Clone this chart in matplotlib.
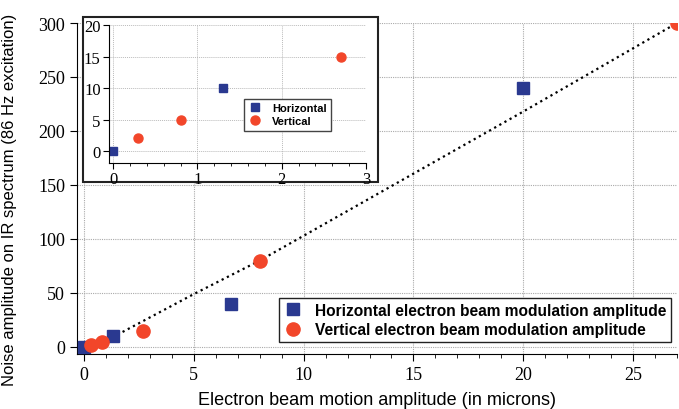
import matplotlib.pyplot as plt
from matplotlib.patches import Rectangle

# data
horiz_x = [0, 1.3, 6.7, 20]
horiz_y = [0, 10, 40, 240]
vert_x = [0.3, 0.8, 2.7, 8, 27]
vert_y = [2, 5, 15, 80, 300]
fit_x = [0.3, 1.3, 5.0, 8, 20, 27]
fit_y = [0, 9, 49, 80, 218, 300]

inset_hx = [0, 1.3]
inset_hy = [0, 10]
inset_vx = [0.3, 0.8, 2.7]
inset_vy = [2, 5, 15]

blue = '#2a3990'
red = '#f2462a'
serif = 'Liberation Serif'
sans = 'Liberation Sans'

fig = plt.figure(figsize=(6.79, 4.10), dpi=100)
ax = fig.add_axes([77/679, 1-355/410, 600/679, 331/410])
ax.plot(fit_x, fit_y, ':', color='black', lw=1.6, zorder=2)
ax.plot(horiz_x, horiz_y, 's', color=blue, ms=8.5, ls='none', zorder=3,
        label='Horizontal electron beam modulation amplitude')
ax.plot(vert_x, vert_y, 'o', color=red, ms=9.5, ls='none', zorder=3,
        label='Vertical electron beam modulation amplitude')
ax.set_xlim(-0.32, 27.0)
ax.set_ylim(-6.5, 300)
ax.set_xticks([0, 5, 10, 15, 20, 25])
ax.set_xticks(range(0, 28), minor=True)
ax.set_yticks([0, 50, 100, 150, 200, 250, 300])
ax.grid(True, color='#aaaaaa', ls=(0, (1, 1)), lw=0.8)
for s in ['top', 'right']:
    ax.spines[s].set_visible(False)
ax.tick_params(direction='out', length=5, labelsize=13)
ax.tick_params(which='minor', length=3)
for t in ax.get_xticklabels() + ax.get_yticklabels():
    t.set_family(serif)
ax.set_xlabel('Electron beam motion amplitude (in microns)', family=sans,
              fontsize=13, labelpad=6)
ax.set_ylabel('Noise amplitude on IR spectrum (86 Hz excitation)', family=sans,
              fontsize=12)
ax.yaxis.set_label_coords(-0.1, 0.47)
ax.legend(loc='center', bbox_to_anchor=(0.663, 0.103), frameon=True,
          fancybox=False, edgecolor='#222222', framealpha=1,
          prop={'family': sans, 'weight': 'bold', 'size': 11.2},
          handletextpad=0.8, borderpad=0.3, labelspacing=0.3, handlelength=1.2)

# inset box
fig.patches.append(Rectangle((83/679, 1-183/410), 295/679, 165/410,
                             transform=fig.transFigure, facecolor='white',
                             edgecolor='#222222', lw=1.5, zorder=5))
ins = fig.add_axes([109/679, 1-164/410, 257/679, 138/410], zorder=6)
ins.plot(inset_hx, inset_hy, 's', color=blue, ms=6, ls='none', label='Horizontal')
ins.plot(inset_vx, inset_vy, 'o', color=red, ms=6.5, ls='none', label='Vertical')
ins.set_xlim(-0.05, 3)
ins.set_ylim(-1.9, 20)
ins.set_xticks([0, 1, 2, 3])
ins.set_xticks([0.2*i for i in range(16)], minor=True)
ins.set_yticks([0, 5, 10, 15, 20])
ins.grid(True, color='#bbbbbb', ls=(0, (1, 1)), lw=0.7)
for s in ['top', 'right']:
    ins.spines[s].set_visible(False)
ins.tick_params(direction='out', length=4, labelsize=12, pad=2)
ins.tick_params(which='minor', length=2)
for t in ins.get_xticklabels() + ins.get_yticklabels():
    t.set_family(serif)
ins.legend(loc='center', bbox_to_anchor=(0.695, 0.35), frameon=True,
           fancybox=False, edgecolor='#444444', framealpha=1,
           prop={'family': sans, 'weight': 'bold', 'size': 8},
           handletextpad=0.9, borderpad=0.4, labelspacing=0.3, handlelength=1.2)

fig.savefig('out.png', dpi=100)
